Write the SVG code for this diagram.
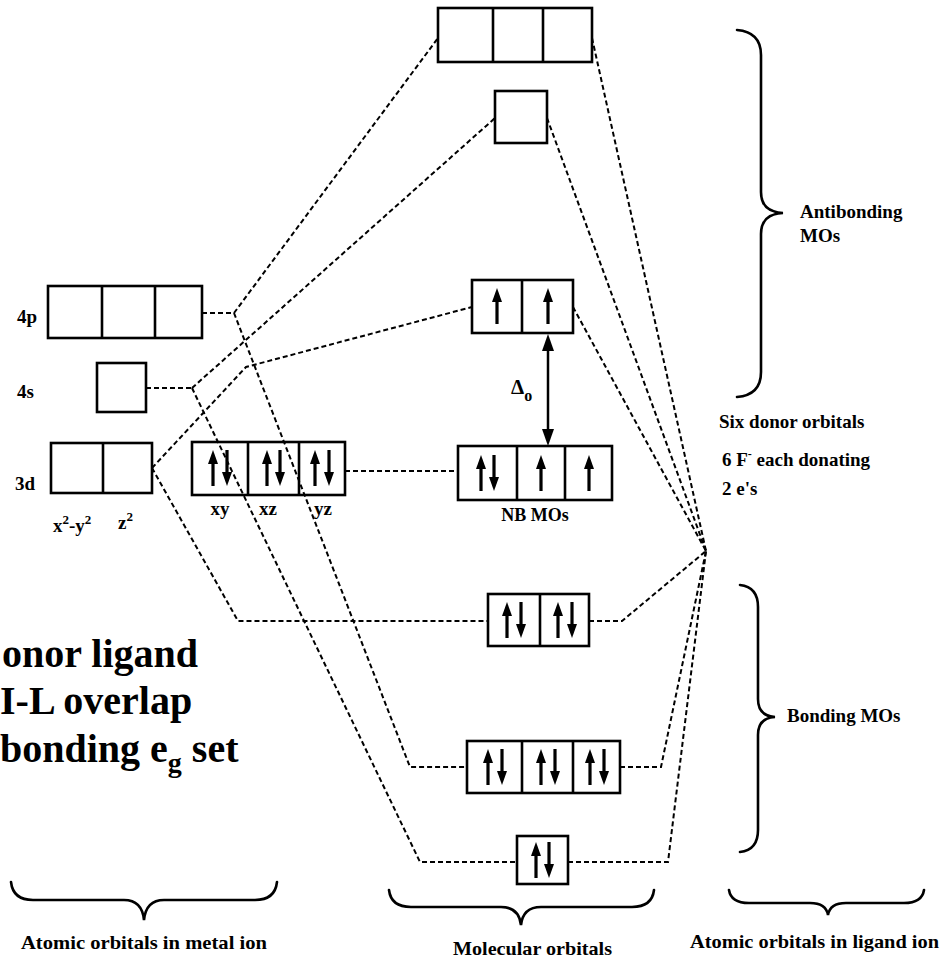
<svg xmlns="http://www.w3.org/2000/svg" xmlns:xlink="http://www.w3.org/1999/xlink" width="945" height="959" viewBox="0 0 945 959">
<style>
.box{fill:none;stroke:#000;stroke-width:2.6}
.div{stroke:#000;stroke-width:2.6}
.dash{fill:none;stroke:#000;stroke-width:2;stroke-dasharray:5 3}
.brace{fill:none;stroke:#000;stroke-width:2.6;stroke-linecap:round}
.t{font-family:"Liberation Serif","Times New Roman",serif;font-weight:bold;fill:#000}
.big{font-size:40px}
.lbl{font-size:19px}
.small{font-size:19px}
</style>
<defs>
<g id="eu"><line x1="0" y1="18" x2="0" y2="-6" stroke="#000" stroke-width="3.2"/><polygon points="-5,-4 0,-18 5,-4" fill="#000"/></g>
<g id="ed"><use xlink:href="#eu" href="#eu" transform="rotate(180)"/></g>
</defs>
<rect width="945" height="959" fill="#fff"/>

<g id="connectors">
<path class="dash" d="M202,313 L234,313"/>
<path class="dash" d="M234,313 L438,38"/>
<path class="dash" d="M234,313 L410,767 L467,767"/>
<path class="dash" d="M146,388 L192,388"/>
<path class="dash" d="M192,388 L495,118"/>
<path class="dash" d="M192,388 L420,862 L517,862"/>
<path class="dash" d="M152,468 L246,367 L472,307"/>
<path class="dash" d="M152,468 L238,621 L488,621"/>
<path class="dash" d="M345,471 L458,471"/>
<path class="dash" d="M592,38 L706,551"/>
<path class="dash" d="M547,118 L706,551"/>
<path class="dash" d="M573,307 L706,551"/>
<path class="dash" d="M589,621 L622,621 L706,551"/>
<path class="dash" d="M620,767 L661,767 L706,551"/>
<path class="dash" d="M568,862 L668,862 L706,551"/>
</g>

<g id="mo-t1u-antibonding">
<rect class="box" x="438" y="8" width="154" height="54"/>
<line class="div" x1="493" y1="8" x2="493" y2="62"/>
<line class="div" x1="543" y1="8" x2="543" y2="62"/>
</g>

<g id="mo-a1g-antibonding">
<rect class="box" x="495" y="91" width="52" height="52"/>
</g>

<g id="ao-4p">
<rect class="box" x="48" y="286" width="154" height="52"/>
<line class="div" x1="102" y1="286" x2="102" y2="338"/>
<line class="div" x1="155" y1="286" x2="155" y2="338"/>
<text class="t lbl" x="17" y="323">4p</text>
</g>

<g id="ao-4s">
<rect class="box" x="97" y="363" width="49" height="49"/>
<text class="t lbl" x="17" y="398">4s</text>
</g>

<g id="ao-3d-eg">
<rect class="box" x="51" y="443" width="101" height="50"/>
<line class="div" x1="103" y1="443" x2="103" y2="493"/>
<text class="t lbl" x="15" y="490">3d</text>
<text class="t lbl" x="53" y="532">x<tspan font-size="13" dy="-8">2</tspan><tspan dy="8">-y</tspan><tspan font-size="13" dy="-8">2</tspan></text>
<text class="t lbl" x="118" y="529">z<tspan font-size="13" dy="-8">2</tspan></text>
</g>

<g id="ao-3d-t2g">
<rect class="box" x="192" y="442" width="153" height="53"/>
<line class="div" x1="248" y1="442" x2="248" y2="495"/>
<line class="div" x1="299" y1="442" x2="299" y2="495"/>
<use xlink:href="#eu" href="#eu" x="213" y="468"/>
<use xlink:href="#ed" href="#ed" x="227" y="468"/>
<use xlink:href="#eu" href="#eu" x="267" y="468"/>
<use xlink:href="#ed" href="#ed" x="280" y="468"/>
<use xlink:href="#eu" href="#eu" x="315" y="468"/>
<use xlink:href="#ed" href="#ed" x="329" y="468"/>
<text class="t lbl" x="220" y="515" text-anchor="middle">xy</text>
<text class="t lbl" x="268" y="515" text-anchor="middle">xz</text>
<text class="t lbl" x="323" y="515" text-anchor="middle">yz</text>
</g>

<g id="mo-eg-antibonding">
<rect class="box" x="472" y="280" width="101" height="53"/>
<line class="div" x1="522" y1="280" x2="522" y2="333"/>
<use xlink:href="#eu" href="#eu" x="497" y="306"/>
<use xlink:href="#eu" href="#eu" x="548" y="306"/>
</g>

<g id="delta-o">
<line x1="548" y1="346" x2="548" y2="434" stroke="#000" stroke-width="2.5"/>
<polygon points="548,334 542,351 554,351" fill="#000"/>
<polygon points="548,446 542,429 554,429" fill="#000"/>
<text class="t" font-size="21" x="511" y="394">Δ<tspan font-size="16" dy="7">o</tspan></text>
</g>

<g id="mo-nonbonding">
<rect class="box" x="458" y="446" width="154" height="54"/>
<line class="div" x1="517" y1="446" x2="517" y2="500"/>
<line class="div" x1="565" y1="446" x2="565" y2="500"/>
<use xlink:href="#eu" href="#eu" x="481" y="473"/>
<use xlink:href="#ed" href="#ed" x="494" y="473"/>
<use xlink:href="#eu" href="#eu" x="541" y="473"/>
<use xlink:href="#eu" href="#eu" x="589" y="473"/>
<text class="t" font-size="18" x="535" y="521" text-anchor="middle">NB MOs</text>
</g>

<g id="mo-eg-bonding">
<rect class="box" x="488" y="594" width="101" height="52"/>
<line class="div" x1="540" y1="594" x2="540" y2="646"/>
<use xlink:href="#eu" href="#eu" x="507" y="620"/>
<use xlink:href="#ed" href="#ed" x="521" y="620"/>
<use xlink:href="#eu" href="#eu" x="558" y="620"/>
<use xlink:href="#ed" href="#ed" x="572" y="620"/>
</g>

<g id="mo-t1u-bonding">
<rect class="box" x="467" y="741" width="153" height="52"/>
<line class="div" x1="522" y1="741" x2="522" y2="793"/>
<line class="div" x1="573" y1="741" x2="573" y2="793"/>
<use xlink:href="#eu" href="#eu" x="488" y="767"/>
<use xlink:href="#ed" href="#ed" x="502" y="767"/>
<use xlink:href="#eu" href="#eu" x="541" y="767"/>
<use xlink:href="#ed" href="#ed" x="555" y="767"/>
<use xlink:href="#eu" href="#eu" x="590" y="767"/>
<use xlink:href="#ed" href="#ed" x="604" y="767"/>
</g>

<g id="mo-a1g-bonding">
<rect class="box" x="517" y="836" width="51" height="48"/>
<use xlink:href="#eu" href="#eu" x="536" y="860"/>
<use xlink:href="#ed" href="#ed" x="549" y="860"/>
</g>

<g id="antibonding-brace">
<path class="brace" d="M737,30 Q761,32 761,55 L761,192 Q761,212 783,213 Q761,214 761,234 L761,372 Q761,395 737,397"/>
<text class="t small" x="800" y="218">Antibonding</text>
<text class="t small" x="800" y="242">MOs</text>
</g>

<g id="ligand-text">
<text class="t small" x="719" y="428">Six donor orbitals</text>
<text class="t small" x="722" y="466">6 F<tspan font-size="12" dy="-8">-</tspan><tspan dy="8"> each donating</tspan></text>
<text class="t small" x="722" y="495">2 e's</text>
</g>

<g id="bonding-brace">
<path class="brace" d="M740,585 Q758,587 758,607 L758,699 Q758,716 775,717 Q758,718 758,735 L758,830 Q758,850 740,852"/>
<text class="t small" x="787" y="722">Bonding MOs</text>
</g>

<g id="left-note">
<text class="t big" x="2" y="667">onor ligand</text>
<text class="t big" x="0" y="714">I-L overlap</text>
<text class="t big" x="0" y="762">bonding e<tspan font-size="28" dy="10">g</tspan><tspan dy="-10"> set</tspan></text>
</g>

<g id="bottom-braces">
<path class="brace" d="M11,882 Q13,900 33,900 L124,900 Q142,900 144,920 Q146,900 164,900 L255,900 Q275,900 277,882"/>
<path class="brace" d="M389,890 Q391,907 411,907 L501,907 Q519,907 521,925 Q523,907 541,907 L632,907 Q652,907 654,890"/>
<path class="brace" d="M729,890 Q731,903 749,903 L810,903 Q826,903 828,915 Q830,903 846,903 L904,903 Q922,903 924,890"/>
<text class="t small" x="21" y="949" textLength="246" lengthAdjust="spacingAndGlyphs">Atomic orbitals in metal ion</text>
<text class="t small" x="453" y="955" textLength="159" lengthAdjust="spacingAndGlyphs">Molecular orbitals</text>
<text class="t small" x="690" y="948" textLength="249" lengthAdjust="spacingAndGlyphs">Atomic orbitals in ligand ion</text>
</g>
</svg>
